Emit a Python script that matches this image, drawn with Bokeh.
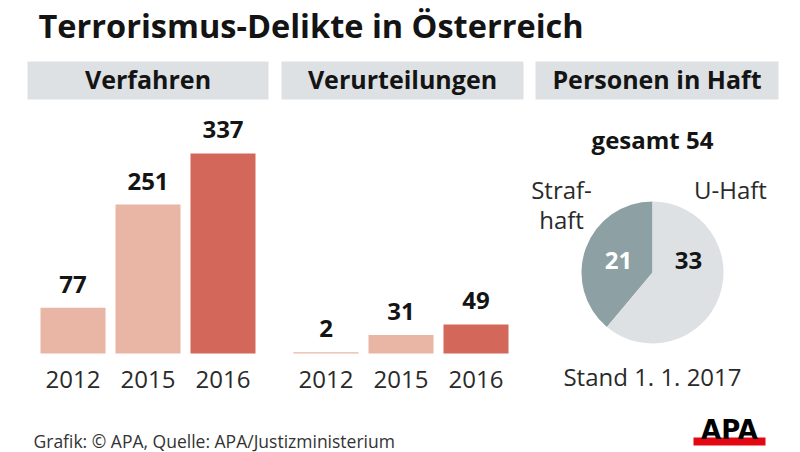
from math import pi
from bokeh.plotting import figure
from bokeh.models import ColumnDataSource, FactorRange, Range1d, LabelSet
from bokeh.layouts import column, row
from bokeh.core.properties import value
from bokeh.embed import file_html
from bokeh.resources import INLINE

# ---------------- data ----------------
title_text = "Terrorismus-Delikte in Österreich"
panel_titles = ["Verfahren", "Verurteilungen", "Personen in Haft"]
years = ["2012", "2015", "2016"]
verfahren = [77, 251, 337]
verurteilungen = [2, 31, 49]
haft_labels = ["Strafhaft", "U-Haft"]
haft_values = [21, 33]
stand_text = "Stand 1. 1. 2017"
source_text = "Grafik: © APA, Quelle: APA/Justizministerium"

# ---------------- style ----------------
bar_colors = ["#e9b6a6", "#e9b6a6", "#d3685a"]
pie_colors = ["#8da0a4", "#dee1e3"]
band_color = "#dde1e4"
FONT = "Open Sans"
DARK = "#141414"
GREY_TXT = "#2a2a2a"
W, H = 800, 452


def mk(width, height, x_range, y_range):
    p = figure(width=width, height=height, x_range=x_range, y_range=y_range,
               output_backend="svg", toolbar_location=None,
               x_axis_location=None, y_axis_location=None,
               min_border=0, outline_line_color=None,
               background_fill_color="white", border_fill_color="white")
    p.grid.visible = False
    return p


def lab(p, x, y, text, size="24px", style="normal", color=GREY_TXT, align="center",
        font=FONT):
    src = ColumnDataSource(dict(x=[x], y=[y], t=[text]))
    p.add_layout(LabelSet(x="x", y="y", text="t", source=src,
                          text_font=value(font), text_font_size=value(size),
                          text_font_style=style, text_color=color, text_align=align,
                          text_baseline="alphabetic"))


# ---------------- header ----------------
TOP = 108
head = mk(W, TOP, Range1d(0, W), Range1d(-TOP, 0))
lab(head, 38, -37, title_text, size="32.5px", style="bold", color=DARK, align="left")
band_left = [27, 281, 535]
band_right = [268, 523, 778]
head.quad(left=band_left, right=band_right, top=[-61] * 3, bottom=[-99] * 3,
          color=band_color, line_color=None)
for l, r, t in zip(band_left, band_right, panel_titles):
    lab(head, (l + r) / 2, -88, t, size="25px", style="bold", color=DARK)

# ---------------- bar panels ----------------
PX = 0.5935        # pixels per unit
BOTTOM, BASE = 408, 353
STEP = 75.0


def bar_panel(width, values, left_border=0):
    frame_w = width - left_border
    pad = (frame_w / STEP - len(years)) / 2.0
    xr = FactorRange(factors=years, range_padding=pad, range_padding_units="absolute")
    yr = Range1d(-(BOTTOM - BASE) / PX, (BASE - TOP) / PX)
    p = mk(width, BOTTOM - TOP, xr, yr)
    p.min_border_left = left_border
    src = ColumnDataSource(dict(year=years, val=values, lab=[str(v) for v in values],
                                color=bar_colors, zero=[0] * len(years)))
    p.vbar(x="year", top="val", bottom=0, width=65 / STEP, color="color",
           line_color=None, source=src)
    p.add_layout(LabelSet(x="year", y="val", text="lab", source=src,
                          y_offset=15, text_align="center",
                          text_baseline="alphabetic", text_font=value(FONT),
                          text_font_size="24px", text_font_style="bold",
                          text_color=DARK))
    p.add_layout(LabelSet(x="year", y="zero", text="year", source=src,
                          y_offset=-34, text_align="center",
                          text_baseline="alphabetic", text_font=value(FONT),
                          text_font_size="24px", text_color=GREY_TXT))
    return p


p1 = bar_panel(288, verfahren, left_border=7)
p2 = bar_panel(225, verurteilungen)

# ---------------- pie ----------------
p3 = mk(W - 288 - 225, BOTTOM - TOP, Range1d(513, W), Range1d(-BOTTOM, -TOP))
total = sum(haft_values)
starts, ends = [], []
acc = pi / 2
for v in haft_values:
    starts.append(acc)
    acc += 2 * pi * v / total
    ends.append(acc)
psrc = ColumnDataSource(dict(label=haft_labels, val=haft_values,
                             start=starts, end=ends, color=pie_colors))
p3.wedge(x=652, y=-272, radius=71, start_angle="start", end_angle="end",
         color="color", line_color=None, source=psrc)

lab(p3, 652, -148, f"gesamt {total}", style="bold", color=DARK)
lab(p3, 561, -198, "Straf-")
lab(p3, 561, -228, "haft")
lab(p3, 730, -198, "U-Haft")
lab(p3, 618, -268, str(haft_values[0]), style="bold", color="white")
lab(p3, 688, -268, str(haft_values[1]), style="bold", color=DARK)
lab(p3, 652, -385, stand_text)

# ---------------- footer ----------------
foot = mk(W, H - BOTTOM, Range1d(0, W), Range1d(-H, -BOTTOM))
lab(foot, 33, -447, source_text, size="17.5px", color="#333333", align="left")
foot.quad(left=[693], right=[765], top=[-437], bottom=[-445], color="#e30613",
          line_color=None)
lab(foot, 729, -438, "APA", size="26px", style="bold", color="black", font="DejaVu Sans")

layout = column(head, row(p1, p2, p3), foot)
open("out.html", "w").write(file_html(layout, INLINE))
